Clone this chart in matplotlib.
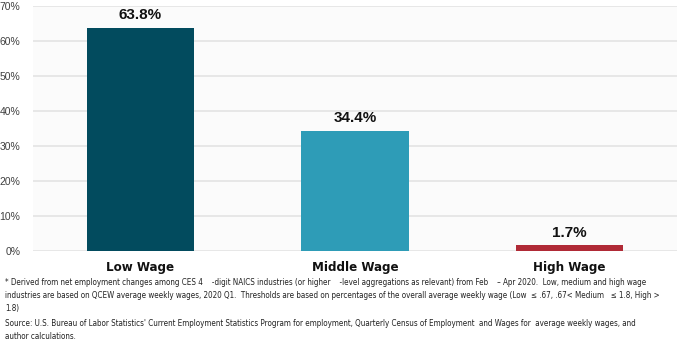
import matplotlib
matplotlib.use("Agg")
import matplotlib.pyplot as plt
from matplotlib.ticker import PercentFormatter

categories = ["Low Wage", "Middle Wage", "High Wage"]
values = [63.8, 34.4, 1.7]
colors = ["#024b5e", "#2e9cb7", "#b02a36"]
yticks = [0, 10, 20, 30, 40, 50, 60, 70]

footnote = ("* Derived from net employment changes among CES 4    -digit NAICS industries (or higher    -level aggregations as relevant) from Feb    \u2013 Apr 2020.  Low, medium and high wage\n"
            "industries are based on QCEW average weekly wages, 2020 Q1.  Thresholds are based on percentages of the overall average weekly wage (Low  \u2264 .67, .67< Medium   \u2264 1.8, High >\n"
            "1.8)")
source = ("Source: U.S. Bureau of Labor Statistics' Current Employment Statistics Program for employment, Quarterly Census of Employment  and Wages for  average weekly wages, and\n"
          "author calculations.")

narrow = ["DejaVu Sans", "Liberation Sans"]

fig = plt.figure(figsize=(6.77, 3.43), dpi=100)
fig.patch.set_facecolor("white")
ax = fig.add_axes([33/677, 1-251/343, (677-33)/677, (251-6)/343])
ax.set_facecolor("#fbfbfb")

x = range(len(categories))
ax.bar(x, values, width=0.5, color=colors, zorder=3)
for xi, v in zip(x, values):
    ax.text(xi, v + 1.5, f"{v:.1f}%", ha="center", va="bottom",
            fontsize=11, fontweight="bold", family="Liberation Sans", color="#111111", zorder=4)

ax.set_xlim(-0.5, 2.5)
ax.set_ylim(0, 70)
ax.set_yticks(yticks)
ax.yaxis.set_major_formatter(PercentFormatter(decimals=0))
ax.set_xticks(list(x))
ax.set_xticklabels(categories, fontfamily=narrow, fontweight="bold", fontsize=9.5, fontstretch="condensed")
for lab in ax.get_yticklabels():
    lab.set_family("Liberation Sans")
ax.tick_params(axis="y", labelsize=7.5, colors="#404040", length=0, pad=9)
ax.tick_params(axis="x", length=0, pad=7, colors="#111111")
ax.grid(axis="y", color="#e3e3e3", linewidth=1.2, zorder=0)
for s in ax.spines.values():
    s.set_visible(False)

fig.text(5/677, 1-278/343, footnote, fontfamily=narrow, fontstretch="condensed", fontsize=5.8, va="top",
         ha="left", color="#222222", linespacing=1.55)
fig.text(5/677, 1-319/343, source, fontfamily=narrow, fontstretch="condensed", fontsize=5.8, va="top",
         ha="left", color="#222222", linespacing=1.55)

fig.savefig("out.png", dpi=100, facecolor="white")
